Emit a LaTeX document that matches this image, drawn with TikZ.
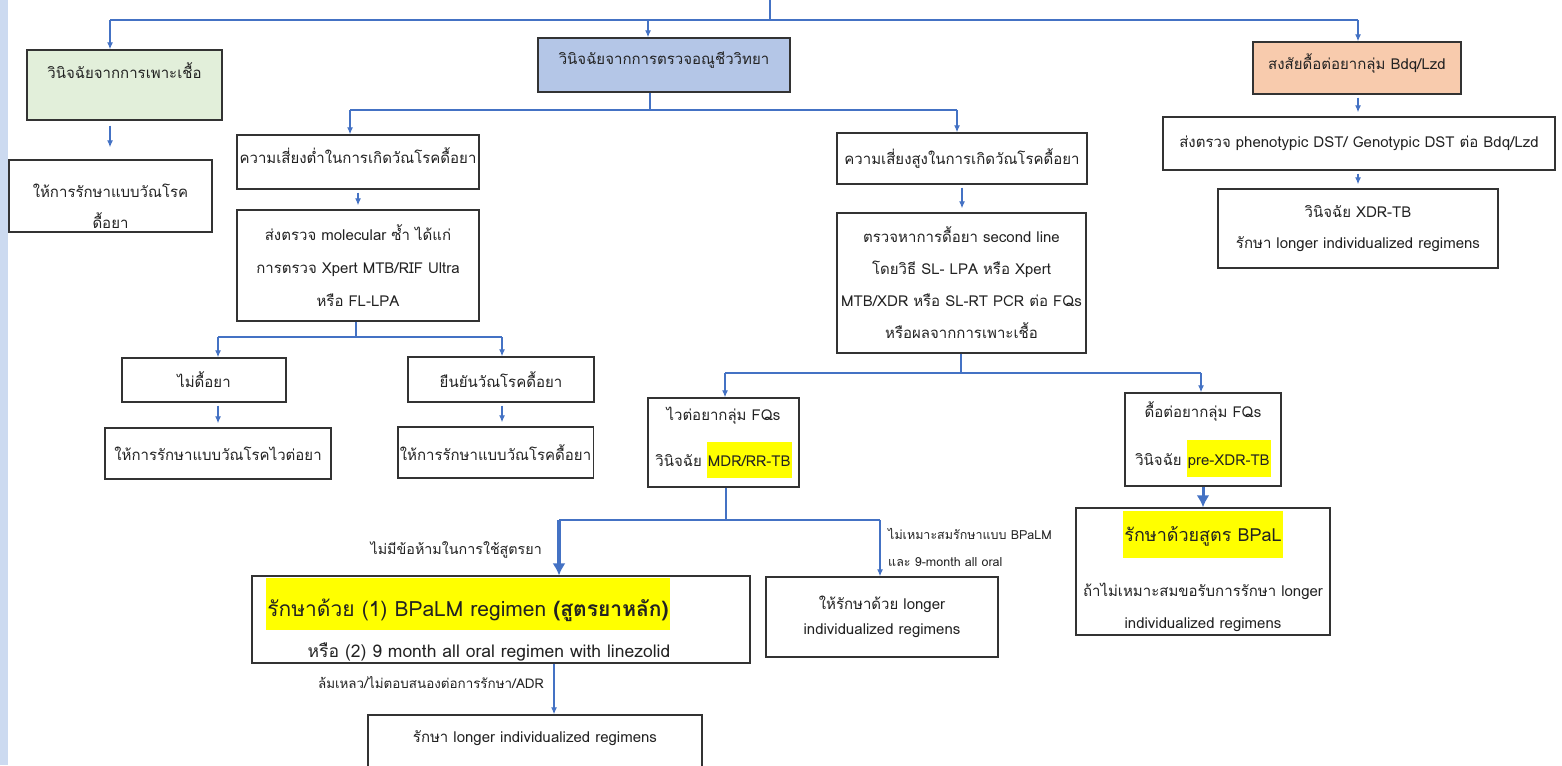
\documentclass[tikz,border=0pt]{standalone}
\usepackage{fontspec}
\newfontfamily\thaifont[Script=Thai]{Loma}
\usepackage{xcolor}
\usepackage{tikz}
\usetikzlibrary{arrows.meta,positioning}

\definecolor{linkblue}{HTML}{4472C4}
\definecolor{boxgray}{HTML}{333333}
\definecolor{txtgray}{HTML}{222222}
\definecolor{cultgreen}{HTML}{E2EFDA}
\definecolor{molblue}{HTML}{B4C6E7}
\definecolor{bdqorange}{HTML}{F8CBAD}
\definecolor{hlyellow}{HTML}{FFFF00}
\definecolor{stripblue}{HTML}{CCDAF0}

% yellow marker: depth, total height, text
\newcommand\hlbox[3]{{\setlength{\fboxsep}{1pt}\colorbox{hlyellow}{\rule[-#1]{0pt}{#2}#3}}}
\newcommand\padr[1]{\hbox to #1{}}

\begin{document}
\begin{tikzpicture}[x=1pt,y=-1pt,>=Latex,font=\thaifont\fontsize{15}{31}\selectfont,
  box/.style={draw=boxgray,line width=1.4pt,text=txtgray,align=center,inner sep=2pt},
  link/.style={draw=linkblue,line width=1.2pt},
  arr/.style={link,-{Latex[length=7pt,width=6pt]}},
  hop/.style={arr,shorten <=3pt,shorten >=4pt},
  fat/.style={draw=linkblue,line width=3.5pt,-{Latex[length=12pt,width=13pt]}},
  lbl/.style={text=txtgray,font=\thaifont\fontsize{12.5}{27}\selectfont,align=left,inner sep=0pt}]
\clip (0,0) rectangle (1562,765);
\fill[white] (0,0) rectangle (1562,765);
\fill[stripblue] (0,0) rectangle (8,765);

\node[box,fill=cultgreen,minimum width=195pt,minimum height=70pt,text depth=28pt] (cult) at (124.5,85) {วินิจฉัยจากการเพาะเชื้อ};
\node[box,minimum width=203pt,minimum height=72pt] (treat) at (110.5,196) {\rule{0pt}{34pt}ให้การรักษาแบบวัณโรค\\ดื้อยา};
\node[box,fill=molblue,minimum width=252pt,minimum height=54pt,text depth=13pt] (molec) at (664,65) {วินิจฉัยจากการตรวจอณูชีววิทยา};
\node[box,fill=bdqorange,minimum width=208pt,minimum height=52pt,text depth=13pt] (bdq) at (1357,68) {สงสัยดื้อต่อยากลุ่ม Bdq/Lzd};
\node[box,minimum width=392pt,minimum height=53pt] (dst) at (1359,143.5) {ส่งตรวจ phenotypic DST/ Genotypic DST ต่อ Bdq/Lzd};
\node[box,minimum width=280pt,minimum height=79pt] (xdr) at (1358,228.5) {วินิจฉัย XDR-TB\\รักษา longer individualized regimens};

\node[box,minimum width=242pt,minimum height=54pt,text depth=13pt] (lowrisk) at (358,162) {ความเสี่ยงต่ำในการเกิดวัณโรคดื้อยา};
\node[box,minimum width=242pt,minimum height=111pt] (lowmol) at (358,265.5) {ส่งตรวจ molecular ซ้ำ ได้แก่\\[2pt]การตรวจ Xpert MTB/RIF Ultra\\[2pt]หรือ FL-LPA};
\node[box,minimum width=164pt,minimum height=44pt] (nores) at (204,380) {ไม่ดื้อยา};
\node[box,minimum width=186pt,minimum height=45pt] (confirm) at (501,379.5) {ยืนยันวัณโรคดื้อยา};
\node[box,minimum width=226pt,minimum height=51pt] (senstx) at (218,453.5) {ให้การรักษาแบบวัณโรคไวต่อยา};
\node[box,minimum width=193pt,minimum height=51pt] (resisttx) at (495.5,452.5) {ให้การรักษาแบบวัณโรคดื้อยา};

\node[box,minimum width=250pt,minimum height=51pt] (highrisk) at (962,158.5) {ความเสี่ยงสูงในการเกิดวัณโรคดื้อยา};
\node[box,minimum width=249pt,minimum height=140pt] (highmol) at (961.5,283) {ตรวจหาการดื้อยา second line\\[1pt]โดยวิธี SL- LPA หรือ Xpert\\[1pt]MTB/XDR หรือ SL-RT PCR ต่อ FQs\\[1pt]หรือผลจากการเพาะเชื้อ};
\node[box,minimum width=151pt,minimum height=89pt] (mdr) at (723.5,442.5) {ไวต่อยากลุ่ม FQs\\[15pt]วินิจฉัย \hlbox{11pt}{34pt}{MDR/RR-TB}};
\node[box,minimum width=156pt,minimum height=93pt] (prexdr) at (1203,439.5) {ดื้อต่อยากลุ่ม FQs\\[17pt]วินิจฉัย \hlbox{11pt}{35pt}{pre-XDR-TB}};
\node[box,minimum width=254pt,minimum height=127pt] (bpal) at (1203,571.5) {{\fontsize{18}{31}\selectfont\hlbox{15pt}{45pt}{รักษาด้วยสูตร BPaL}}\\[24pt]ถ้าไม่เหมาะสมขอรับการรักษา longer\\[1pt]individualized regimens};

\node[box,minimum width=498pt,minimum height=85pt] (bpalm) at (501,619.5) {{\fontsize{21}{31}\selectfont\hlbox{13pt}{50pt}{รักษาด้วย (1) BPaLM regimen \textbf{(สูตรยาหลัก)}}}\padr{66pt}\\[10pt]{\fontsize{17.5}{31}\selectfont หรือ (2) 9 month all oral regimen with linezolid}\padr{24pt}};
\node[box,minimum width=232pt,minimum height=80pt] (longer) at (882,617) {ให้รักษาด้วย longer\\[-6pt]individualized regimens};
\node[box,minimum width=334pt,minimum height=70pt,text depth=28pt] (final) at (535,750) {รักษา longer individualized regimens};

\node[lbl,anchor=east,font=\thaifont\fontsize{14.3}{27}\selectfont] (okl) at (542,550) {ไม่มีข้อห้ามในการใช้สูตรยา};
\node[lbl,anchor=west] (nol) at (888,547) {ไม่เหมาะสมรักษาแบบ BPaLM\\และ 9-month all oral};
\node[lbl,anchor=east,font=\thaifont\fontsize{13.4}{27}\selectfont] (faill) at (544,683) {ล้มเหลว/ไม่ตอบสนองต่อการรักษา/ADR};

\coordinate (top) at (770,0);
\coordinate (hub) at (770,20);
\coordinate (c0) at (110,20);
\coordinate (m0) at (648,20);
\coordinate (b0) at (1358,20);
\draw[link] (top) -- (hub);
\draw[link] (c0) -- (b0);
\draw[arr] (c0) -- (c0 |- cult.north);
\draw[arr] (m0) -- (m0 |- molec.north);
\draw[arr] (b0) -- (b0 |- bdq.north);
\draw[hop,shorten <=5pt,shorten >=12pt] (cult.south -| c0) -- (treat.north -| c0);
\draw[hop] (bdq.south -| b0) -- (dst.north -| b0);
\draw[hop] (dst.south -| b0) -- (xdr.north -| b0);

\coordinate (mj) at (650,110);
\coordinate (ml) at (350,110);
\coordinate (mr) at (957,110);
\draw[link] (molec.south -| mj) -- (mj);
\draw[link] (ml) -- (mr);
\draw[arr] (ml) -- (ml |- lowrisk.north);
\draw[arr] (mr) -- (mr |- highrisk.north);
\draw[hop] (lowrisk.south) -- (lowmol.north);
\draw[hop] (highrisk.south) -- (highrisk.south |- highmol.north);

\coordinate (lj) at (356,337);
\coordinate (ll) at (218,337);
\coordinate (lr) at (502,337);
\draw[link] (lowmol.south -| lj) -- (lj);
\draw[link] (ll) -- (lr);
\draw[arr] (ll) -- (ll |- nores.north);
\draw[arr] (lr) -- (lr |- confirm.north);
\draw[hop] (nores.south -| ll) -- (senstx.north -| ll);
\draw[hop] (confirm.south -| lr) -- (resisttx.north -| lr);

\coordinate (hj) at (961,373);
\coordinate (hl) at (725,373);
\coordinate (hr) at (1201,373);
\draw[link] (highmol.south -| hj) -- (hj);
\draw[link] (hl) -- (hr);
\draw[arr] (hl) -- (hl |- mdr.north);
\draw[arr] (hr) -- (hr |- prexdr.north);

\coordinate (dj) at (726,520);
\coordinate (dl) at (559,520);
\coordinate (dr) at (880,520);
\draw[link] (mdr.south -| dj) -- (dj);
\draw[link] (dl) -- (dr);
\draw[fat] (dl) -- (dl |- bpalm.north);
\draw[arr] (dr) -- (dr |- longer.north);
\draw[fat,line width=3pt] (prexdr.south) -- (bpal.north);

\coordinate (fx) at (554,700);
\draw[arr] (bpalm.south -| fx) -- (fx |- final.north);
\end{tikzpicture}
\end{document}
